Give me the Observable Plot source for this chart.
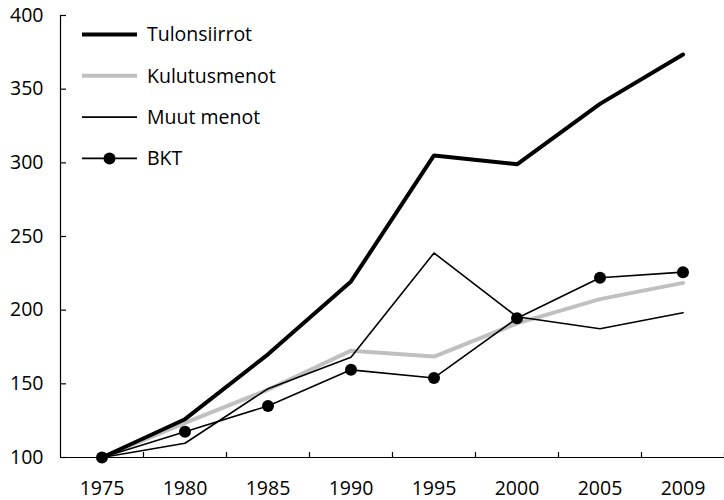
<!DOCTYPE html>
<html><head><meta charset="utf-8">
<script src="https://cdn.jsdelivr.net/npm/d3@7"></script>
<script src="https://cdn.jsdelivr.net/npm/@observablehq/plot@0.6"></script>
<style>
body{margin:0;background:#fff}
#wrap{position:relative;width:724px;height:500px;font-family:"Open Sans",sans-serif}
#legend{position:absolute;left:0;top:0;pointer-events:none}
</style>
</head><body><div id="wrap"></div>
<script>
// ---- data ----
const years = ["1975","1980","1985","1990","1995","2000","2005","2009"];
const tulonsiirrot = [100,126,170,219.5,305,299,340,373.5];
const kulutusmenot = [100,123.5,146,172.5,168.5,191,207.5,218.5];
const muutMenot   = [100,109.7,146.7,168,238.8,195.5,187.4,198.3];
const bkt         = [100,117.5,135,159.5,154,194.5,222,225.8];
const yTicks = [100,150,200,250,300,350,400];
const seriesNames = ["Tulonsiirrot","Kulutusmenot","Muut menot","BKT"];

// ---- styles ----
const styles = [
  {stroke:"#000", width:4, dot:false},
  {stroke:"#c0c0c0", width:4, dot:false},
  {stroke:"#000", width:1.6, dot:false},
  {stroke:"#000", width:1.6, dot:true}
];
const FONT = '"Open Sans", sans-serif';
const FS = 19.5;

const values = [tulonsiirrot, kulutusmenot, muutMenot, bkt];
const idx = years.map((_, i) => i);
const bounds = idx.map(i => i + 0.5);
const xDomain = [-0.5, years.length - 0.5];
const rowsOf = v => v.map((value, i) => ({i, year: years[i], value}));
// draw order: grey first, then black lines
const order = [1, 0, 2, 3];

const marks = [];
for (const k of order) {
  const s = styles[k];
  marks.push(Plot.line(rowsOf(values[k]), {x:"i", y:"value", stroke:s.stroke, strokeWidth:s.width, strokeLinejoin:"miter"}));
  if (s.dot) marks.push(Plot.dot(rowsOf(values[k]), {x:"i", y:"value", r:6, fill:s.stroke, stroke:null}));
}

const chart = Plot.plot({
  width:724, height:500,
  marginTop:15, marginBottom:43, marginLeft:60, marginRight:0,
  style:{fontFamily:FONT, fontSize:FS+"px", color:"#000", background:"#fff", overflow:"visible"},
  x:{type:"linear", domain:xDomain},
  y:{type:"linear", domain:[yTicks[0], yTicks[yTicks.length-1]]},
  marks:[
    Plot.ruleY([yTicks[0]], {stroke:"#000", strokeWidth:1.2}),
    Plot.ruleX([xDomain[0]], {stroke:"#000", strokeWidth:1.2}),
    Plot.axisX(bounds, {tickSize:5, dy:-5, tickFormat:() => "", label:null, strokeWidth:1.2}),
    Plot.axisX(idx, {tickSize:0, tickPadding:24, tickFormat:i => years[i], label:null, fill:"#000"}),
    Plot.axisY(yTicks, {tickSize:6, dx:6, tickFormat:() => "", label:null, strokeWidth:1.2}),
    Plot.axisY(yTicks, {tickSize:0, tickPadding:17, label:null, fill:"#000"}),
    ...marks
  ]
});
const wrap = document.getElementById("wrap");
wrap.appendChild(chart);

// ---- legend overlay ----
const leg = d3.select(wrap).append("svg").attr("id","legend").attr("width",724).attr("height",500);
const lx0 = 82, lx1 = 137, tx = 147, ly0 = 34.5, dyRow = 41.3;
seriesNames.forEach((name, k) => {
  const s = styles[k];
  const y = ly0 + k * dyRow;
  leg.append("line").attr("x1",lx0).attr("x2",lx1).attr("y1",y).attr("y2",y)
    .attr("stroke",s.stroke).attr("stroke-width",s.width);
  if (s.dot) leg.append("circle").attr("cx",(lx0+lx1)/2).attr("cy",y).attr("r",6).attr("fill",s.stroke);
  leg.append("text").attr("x",tx).attr("y",y).attr("dy","0.35em")
    .attr("font-family",FONT).attr("font-size",FS).attr("fill","#000").text(name);
});
</script>
</body></html>
